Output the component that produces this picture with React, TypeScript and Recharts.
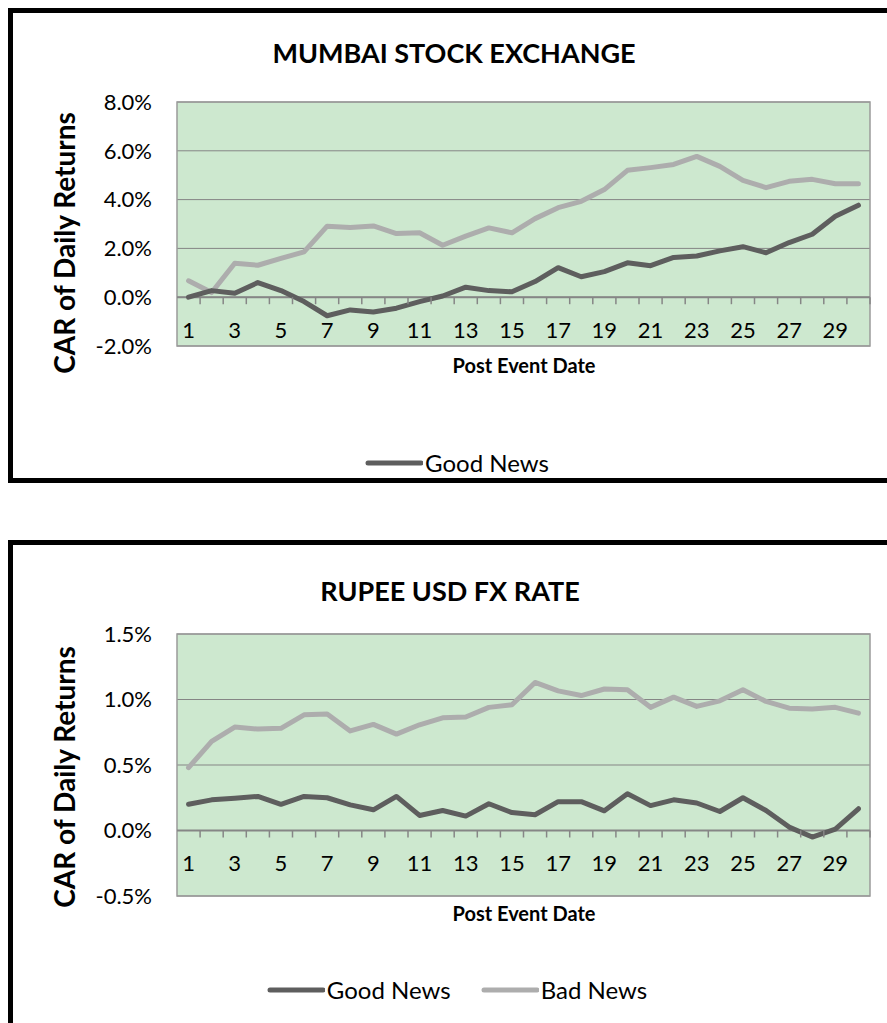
import React from "react";
import {
  LineChart,
  Line,
  XAxis,
  YAxis,
  CartesianGrid,
  ReferenceLine,
  ReferenceDot,
  ReferenceArea,
  Legend,
} from "recharts";

const FONT = "Lato, 'Open Sans', sans-serif";

const days = [1, 2, 3, 4, 5, 6, 7, 8, 9, 10, 11, 12, 13, 14, 15, 16, 17, 18, 19, 20, 21, 22, 23, 24, 25, 26, 27, 28, 29, 30];
const xTickLabels = [1, 3, 5, 7, 9, 11, 13, 15, 17, 19, 21, 23, 25, 27, 29];

const mumbaiGood = [0.0, 0.27, 0.16, 0.6, 0.27, -0.18, -0.76, -0.52, -0.61, -0.45, -0.18, 0.05, 0.41, 0.27, 0.22, 0.64, 1.21, 0.84, 1.05, 1.41, 1.29, 1.63, 1.69, 1.9, 2.07, 1.82, 2.24, 2.58, 3.32, 3.77];
const mumbaiBad = [0.67, 0.19, 1.39, 1.31, 1.59, 1.86, 2.91, 2.86, 2.92, 2.61, 2.64, 2.13, 2.5, 2.84, 2.64, 3.22, 3.67, 3.93, 4.41, 5.2, 5.31, 5.44, 5.77, 5.36, 4.79, 4.49, 4.75, 4.83, 4.65, 4.65];
const mumbaiTicks = [-2, 0, 2, 4, 6, 8];
const mumbaiLegend = ["Good News"];

const rupeeGood = [0.2, 0.234, 0.247, 0.26, 0.2, 0.26, 0.25, 0.196, 0.158, 0.26, 0.115, 0.153, 0.11, 0.204, 0.137, 0.12, 0.22, 0.22, 0.15, 0.28, 0.19, 0.234, 0.21, 0.145, 0.25, 0.153, 0.026, -0.05, 0.01, 0.166];
const rupeeBad = [0.48, 0.68, 0.79, 0.774, 0.78, 0.883, 0.89, 0.76, 0.81, 0.736, 0.807, 0.86, 0.866, 0.94, 0.96, 1.13, 1.066, 1.03, 1.08, 1.074, 0.94, 1.018, 0.947, 0.99, 1.074, 0.985, 0.934, 0.927, 0.94, 0.896];
const rupeeTicks = [-0.5, 0, 0.5, 1.0, 1.5];
const rupeeLegend = ["Good News", "Bad News"];

const GOOD_COLOR = "#5e5e5e";
const BAD_COLOR = "#adadad";
const GREEN = "#cde8cf";
const GRID = "#858585";

const buildData = (good: number[], bad: number[]) =>
  days.map((d, i) => ({ day: d, good: good[i], bad: bad[i] }));

const LegendContent = ({ payload, names }: { payload: any[]; names: string[] }) => {
  const items = names
    .map((n) => payload.find((p: any) => p.value === n))
    .filter(Boolean) as any[];
  return (
    <div
      style={{
        display: "flex",
        justifyContent: "center",
        alignItems: "center",
        gap: 30,
        fontFamily: FONT,
        fontSize: 24,
        color: "#000",
      }}
    >
      {items.map((p: any) => (
        <span key={p.value} style={{ display: "inline-flex", alignItems: "center" }}>
          <svg width={58} height={10} style={{ display: "block" }}>
            <line x1={3} y1={5} x2={56} y2={5} stroke={p.color} strokeWidth={5} strokeLinecap="round" />
          </svg>
          <span style={{ marginLeft: 2 }}>{p.value}</span>
        </span>
      ))}
    </div>
  );
};

type PanelProps = {
  top: number;
  height: number;
  marginTop: number;
  marginBottom: number;
  good: number[];
  bad: number[];
  ticks: number[];
  legendNames: string[];
  legendTop: number;
};

const Panel = ({ top, height, marginTop, marginBottom, good, bad, ticks, legendNames, legendTop }: PanelProps) => {
  const data = buildData(good, bad);
  const yMin = ticks[0];
  const yMax = ticks[ticks.length - 1];
  const boundaries = days.map((d) => d + 0.5);
  return (
    <div style={{ position: "absolute", left: 0, top, width: 887, height }}>
      <LineChart
        width={887}
        height={height}
        data={data}
        margin={{ top: marginTop, right: 17, left: 97, bottom: marginBottom }}
      >
        <CartesianGrid vertical={false} fill={GREEN} stroke={GRID} fillOpacity={1} />
        <XAxis dataKey="day" type="number" domain={[0.5, 30.5]} hide />
        <YAxis
          width={80}
          domain={[yMin, yMax]}
          ticks={ticks}
          axisLine={false}
          tickLine={false}
          tickSize={0}
          tickMargin={25}
          interval={0}
          tickFormatter={(v: number) => v.toFixed(1) + "%"}
          tick={{ fill: "#000", fontFamily: FONT, fontSize: 22 }}
        />
        <ReferenceArea x1={0.5} x2={30.5} y1={yMin} y2={yMax} fill="none" stroke="#9a9a9a" strokeWidth={1.5} />
        <ReferenceLine y={0} stroke="#868686" strokeWidth={2} />
        {boundaries.map((b) => (
          <ReferenceDot
            key={"t" + b}
            x={b}
            y={0}
            r={1}
            shape={(p: any) => (
              <line x1={p.cx} y1={p.cy} x2={p.cx} y2={p.cy + 7} stroke="#868686" strokeWidth={1.5} />
            )}
          />
        ))}
        {xTickLabels.map((d) => (
          <ReferenceDot
            key={"l" + d}
            x={d}
            y={0}
            r={1}
            shape={(p: any) => (
              <text
                x={p.cx}
                y={p.cy + 32}
                textAnchor="middle"
                dominantBaseline="central"
                fontFamily={FONT}
                fontSize={22}
                fill="#000"
              >
                {d}
              </text>
            )}
          />
        ))}
        <Line
          type="linear"
          dataKey="bad"
          name="Bad News"
          stroke={BAD_COLOR}
          strokeWidth={5}
          strokeLinejoin="round"
          strokeLinecap="round"
          dot={false}
          isAnimationActive={false}
        />
        <Line
          type="linear"
          dataKey="good"
          name="Good News"
          stroke={GOOD_COLOR}
          strokeWidth={5}
          strokeLinejoin="round"
          strokeLinecap="round"
          dot={false}
          isAnimationActive={false}
        />
        <Legend
          layout="horizontal"
          verticalAlign="middle"
          align="center"
          width={914}
          wrapperStyle={{ top: legendTop, left: 0, width: 914 }}
          content={(p: any) => <LegendContent payload={p.payload || []} names={legendNames} />}
        />
      </LineChart>
    </div>
  );
};

const textStyle = (x: number, y: number, size: number, bold = true): React.CSSProperties => ({
  position: "absolute",
  left: x,
  top: y,
  transform: "translate(-50%, -50%)",
  fontFamily: FONT,
  fontSize: size,
  fontWeight: bold ? 700 : 400,
  whiteSpace: "nowrap",
  color: "#000",
  lineHeight: 1,
});

const vTextStyle = (x: number, y: number, size: number): React.CSSProperties => ({
  position: "absolute",
  left: x,
  top: y,
  transform: "translate(-50%, -50%) rotate(-90deg)",
  fontFamily: FONT,
  fontSize: size,
  fontWeight: 700,
  whiteSpace: "nowrap",
  color: "#000",
  lineHeight: 1,
});

export default function App() {
  return (
    <div
      style={{
        position: "absolute",
        left: 0,
        top: 0,
        width: 887,
        height: 1023,
        overflow: "hidden",
        background: "#fff",
      }}
    >
      <div
        style={{
          position: "absolute",
          left: 8,
          top: 8,
          width: 1000,
          height: 475,
          border: "5px solid #000",
          boxSizing: "border-box",
        }}
      />
      <div
        style={{
          position: "absolute",
          left: 8,
          top: 540,
          width: 1000,
          height: 600,
          border: "5px solid #000",
          boxSizing: "border-box",
        }}
      />
      <Panel
        top={0}
        height={480}
        marginTop={102}
        marginBottom={134}
        good={mumbaiGood}
        bad={mumbaiBad}
        ticks={mumbaiTicks}
        legendNames={mumbaiLegend}
        legendTop={448}
      />
      <Panel
        top={530}
        height={493}
        marginTop={104}
        marginBottom={127}
        good={rupeeGood}
        bad={rupeeBad}
        ticks={rupeeTicks}
        legendNames={rupeeLegend}
        legendTop={445}
      />
      <div style={textStyle(454, 52, 27)}>MUMBAI STOCK EXCHANGE</div>
      <div style={vTextStyle(64, 243, 28)}>CAR of Daily Returns</div>
      <div style={textStyle(524, 365, 20)}>Post Event Date</div>

      <div style={textStyle(450, 590, 27)}>RUPEE USD FX RATE</div>
      <div style={vTextStyle(64, 777, 28)}>CAR of Daily Returns</div>
      <div style={textStyle(524, 913, 20)}>Post Event Date</div>
    </div>
  );
}
